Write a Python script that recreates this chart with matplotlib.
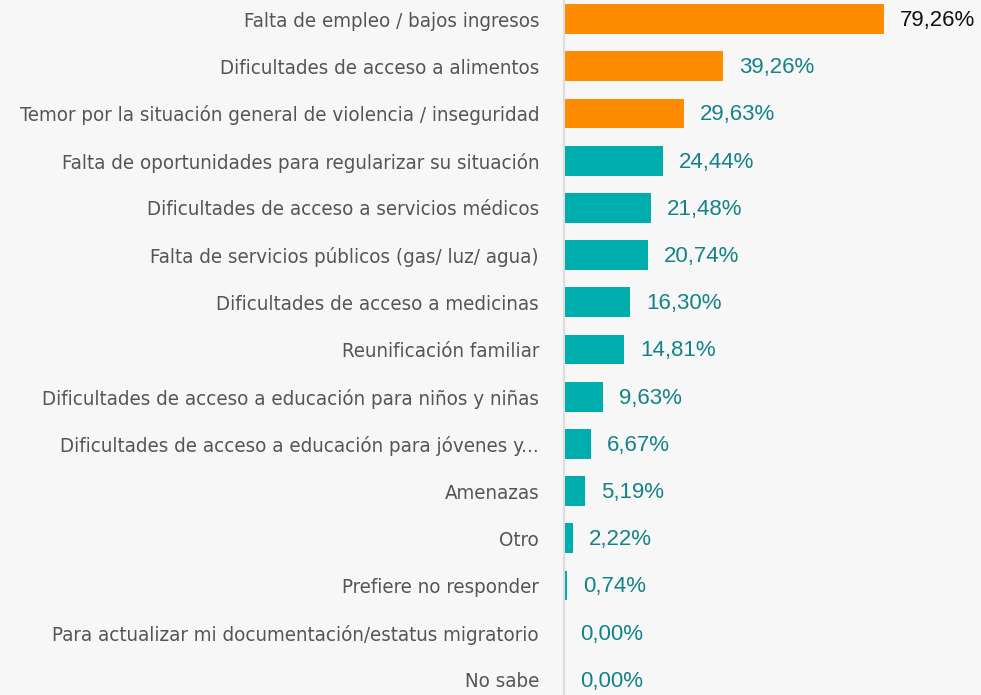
import matplotlib
matplotlib.use('Agg')
import matplotlib.pyplot as plt

categories = [
    'Falta de empleo / bajos ingresos',
    'Dificultades de acceso a alimentos',
    'Temor por la situación general de violencia / inseguridad',
    'Falta de oportunidades para regularizar su situación',
    'Dificultades de acceso a servicios médicos',
    'Falta de servicios públicos (gas/ luz/ agua)',
    'Dificultades de acceso a medicinas',
    'Reunificación familiar',
    'Dificultades de acceso a educación para niños y niñas',
    'Dificultades de acceso a educación para jóvenes y...',
    'Amenazas',
    'Otro',
    'Prefiere no responder',
    'Para actualizar mi documentación/estatus migratorio',
    'No sabe',
]
values = [79.26, 39.26, 29.63, 24.44, 21.48, 20.74, 16.30, 14.81,
          9.63, 6.67, 5.19, 2.22, 0.74, 0.00, 0.00]
highlight = 3  # first n bars in orange

bg = '#f7f7f7'
fig = plt.figure(figsize=(9.81, 6.95), dpi=100, facecolor=bg)
ax = fig.add_axes([564 / 981, 0, 1 - 564 / 981, 1], facecolor=bg)

colors = ['#ff8c00' if i < highlight else '#00adad' for i in range(len(values))]
ypos = list(range(len(values)))
ax.barh(ypos, values, height=0.63, color=colors)

for i, v in enumerate(values):
    txt = f'{v:.2f}'.replace('.', ',') + '%'
    col = '#111111' if i == 0 else '#138387'
    ax.text(v + 4.0, i + 0.03, txt, va='center', ha='left', fontsize=16,
            color=col, family='Liberation Sans')

ax.set_xlim(0, (981 - 564) / 4.04)
ax.set_ylim(14 + 15 / 47.2, -19 / 47.2)
ax.set_yticks(ypos)
ax.set_yticklabels(categories, fontsize=14.7, color='#555555',
                   family='DejaVu Sans', fontstretch='condensed')
ax.tick_params(axis='y', length=0, pad=18)
ax.set_xticks([])
for s in ['top', 'right', 'bottom']:
    ax.spines[s].set_visible(False)
ax.spines['left'].set_color('#dddddd')
ax.spines['left'].set_linewidth(1.5)

fig.savefig('out.png', dpi=100, facecolor=bg)
